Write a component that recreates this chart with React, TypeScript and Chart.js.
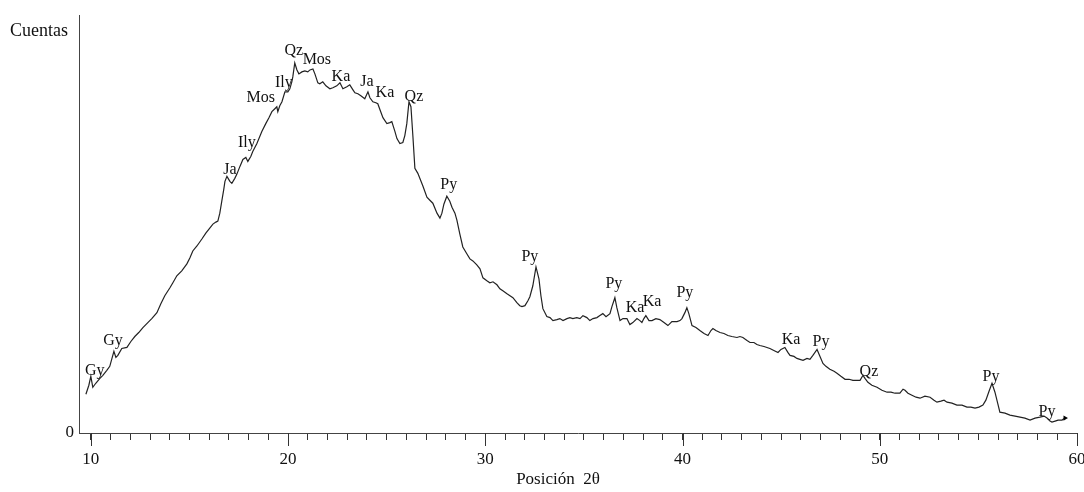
import React, { useEffect, useRef } from 'react';
import { Chart, registerables } from 'chart.js';

Chart.register(...registerables);

// Diffractogram trace: position 2θ (degrees) and intensity (counts, arbitrary units)
const twoTheta = [
  9.75, 9.90, 10.00, 10.10, 10.25, 10.46, 10.61, 10.81, 10.96, 11.17, 11.27, 11.37, 11.57, 11.83, 12.03, 12.23, 12.43, 12.64, 12.89, 13.09,
  13.35, 13.55, 13.75, 14.01, 14.16, 14.36, 14.61, 14.87, 15.02, 15.17, 15.38, 15.63, 15.83, 16.03, 16.19, 16.34, 16.44, 16.54, 16.64, 16.74,
  16.80, 16.90, 17.05, 17.15, 17.30, 17.40, 17.56, 17.71, 17.86, 17.96, 18.11, 18.21, 18.42, 18.67, 18.87, 19.03, 19.18, 19.33, 19.43, 19.48,
  19.58, 19.69, 19.84, 19.99, 20.09, 20.19, 20.24, 20.34, 20.45, 20.55, 20.70, 20.85, 21.00, 21.11, 21.26, 21.36, 21.51, 21.61, 21.76, 21.92,
  22.12, 22.27, 22.47, 22.63, 22.78, 22.98, 23.13, 23.29, 23.39, 23.54, 23.69, 23.89, 24.05, 24.15, 24.30, 24.45, 24.55, 24.66, 24.81, 25.01,
  25.16, 25.26, 25.42, 25.52, 25.67, 25.82, 25.92, 26.02, 26.13, 26.23, 26.33, 26.43, 26.58, 26.68, 26.84, 27.04, 27.19, 27.34, 27.55, 27.70,
  27.80, 27.90, 28.05, 28.20, 28.31, 28.46, 28.56, 28.71, 28.86, 29.07, 29.22, 29.37, 29.57, 29.73, 29.88, 30.08, 30.23, 30.39, 30.59, 30.74,
  30.89, 31.10, 31.25, 31.40, 31.60, 31.75, 31.86, 32.01, 32.16, 32.26, 32.41, 32.57, 32.72, 32.82, 32.92, 33.12, 33.28, 33.43, 33.63, 33.78,
  33.94, 34.14, 34.29, 34.44, 34.64, 34.80, 34.95, 35.15, 35.30, 35.46, 35.66, 35.81, 35.96, 36.12, 36.32, 36.42, 36.57, 36.67, 36.83, 36.98,
  37.18, 37.33, 37.48, 37.69, 37.84, 37.94, 38.04, 38.14, 38.30, 38.45, 38.65, 38.85, 39.06, 39.26, 39.46, 39.72, 39.87, 39.97, 40.12, 40.22,
  40.32, 40.48, 40.68, 40.88, 41.09, 41.29, 41.44, 41.54, 41.69, 41.90, 42.10, 42.30, 42.50, 42.76, 42.91, 43.06, 43.27, 43.42, 43.62, 43.77,
  43.92, 44.13, 44.28, 44.43, 44.63, 44.84, 44.99, 45.19, 45.34, 45.45, 45.65, 45.80, 45.95, 46.11, 46.31, 46.46, 46.61, 46.82, 46.97, 47.12,
  47.27, 47.47, 47.68, 47.83, 48.03, 48.24, 48.44, 48.64, 48.84, 49.00, 49.15, 49.25, 49.40, 49.60, 49.86, 50.11, 50.37, 50.57, 50.77, 51.02,
  51.18, 51.28, 51.43, 51.63, 51.84, 52.04, 52.29, 52.55, 52.75, 52.90, 53.10, 53.26, 53.41, 53.66, 53.91, 54.17, 54.42, 54.62, 54.83, 55.03,
  55.23, 55.38, 55.54, 55.69, 55.84, 55.99, 56.09, 56.35, 56.60, 56.86, 57.11, 57.36, 57.62, 57.87, 58.12, 58.33, 58.48, 58.63, 58.73, 58.89,
  59.04, 59.24, 59.39,
];

const counts = [
  390, 480, 570, 460, 500, 550, 580, 630, 670, 820, 760, 780, 850, 860, 920, 970, 1010, 1060, 1110, 1150,
  1210, 1300, 1380, 1460, 1510, 1580, 1630, 1700, 1760, 1830, 1880, 1950, 2010, 2060, 2100, 2120, 2130, 2210, 2330, 2450,
  2530, 2580, 2530, 2510, 2560, 2600, 2680, 2750, 2770, 2730, 2780, 2830, 2910, 3030, 3110, 3170, 3230, 3260, 3280, 3230,
  3290, 3330, 3430, 3430, 3460, 3530, 3580, 3720, 3650, 3610, 3630, 3640, 3630, 3650, 3660, 3610, 3520, 3510, 3530, 3490,
  3460, 3470, 3490, 3520, 3460, 3480, 3500, 3450, 3420, 3410, 3390, 3360, 3430, 3370, 3330, 3320, 3310, 3250, 3170, 3110,
  3120, 3130, 3030, 2960, 2910, 2920, 2990, 3110, 3330, 3280, 2980, 2660, 2610, 2560, 2480, 2370, 2340, 2310, 2210, 2160,
  2210, 2300, 2380, 2330, 2270, 2210, 2140, 2000, 1870, 1800, 1750, 1730, 1690, 1650, 1560, 1530, 1510, 1520, 1490, 1450,
  1430, 1400, 1380, 1360, 1310, 1280, 1270, 1280, 1330, 1370, 1480, 1670, 1550, 1380, 1250, 1170, 1160, 1130, 1140, 1150,
  1130, 1150, 1160, 1150, 1160, 1150, 1180, 1160, 1130, 1150, 1160, 1180, 1200, 1170, 1200, 1270, 1360, 1260, 1130, 1150,
  1150, 1090, 1110, 1150, 1130, 1110, 1150, 1180, 1130, 1130, 1150, 1140, 1110, 1080, 1120, 1120, 1130, 1150, 1210, 1260,
  1200, 1080, 1060, 1030, 1000, 980, 1030, 1050, 1030, 1010, 1000, 980, 970, 960, 970, 960, 930, 910, 910, 890,
  880, 870, 860, 850, 830, 810, 840, 860, 810, 780, 770, 750, 740, 730, 750, 740, 780, 840, 770, 700,
  670, 640, 620, 600, 570, 540, 540, 530, 530, 530, 580, 550, 510, 480, 460, 430, 410, 410, 400, 400,
  440, 430, 400, 380, 360, 350, 370, 360, 330, 310, 320, 330, 310, 300, 280, 280, 260, 260, 250, 260,
  280, 330, 420, 500, 410, 290, 210, 200, 180, 170, 160, 150, 130, 150, 160, 170, 150, 120, 110, 120,
  130, 130, 150,
];

// Mineral phase annotations (label centre in 2θ / counts)
const peakNames = ['Gy', 'Gy', 'Ja', 'Ily', 'Mos', 'Ily', 'Qz', 'Mos', 'Ka', 'Ja', 'Ka', 'Qz', 'Py', 'Py', 'Py', 'Ka', 'Ka', 'Py', 'Ka', 'Py', 'Qz', 'Py', 'Py'];
const peakTheta = [10.20, 11.12, 17.05, 17.91, 18.62, 19.79, 20.29, 21.46, 22.68, 24.00, 24.91, 26.38, 28.15, 32.26, 36.52, 37.59, 38.45, 40.12, 45.50, 47.02, 49.45, 55.64, 58.48];
const peakCounts = [630, 930, 2650, 2920, 3370, 3520, 3840, 3750, 3580, 3530, 3420, 3380, 2500, 1770, 1500, 1260, 1320, 1410, 940, 920, 620, 560, 210];

const xMin = 9.4;
const xMax = 60;
const yMax = 4200;
const minorTicks = [10, 11, 12, 13, 14, 15, 16, 17, 18, 19, 20, 21, 22, 23, 24, 25, 26, 27, 28, 29, 30, 31, 32, 33, 34, 35, 36, 37, 38, 39, 40, 41, 42, 43, 44, 45, 46, 47, 48, 49, 50, 51, 52, 53, 54, 55, 56, 57, 58, 59, 60];
const majorTicks = [10, 20, 30, 40, 50, 60];
const yTicks = [0];

const yLabel = 'Cuentas';
const xLabel = 'Posición  2θ';

const SERIF = '"Liberation Serif", "Times New Roman", serif';

export default function App() {
  const ref = useRef<HTMLCanvasElement | null>(null);

  useEffect(() => {
    if (!ref.current) return;

    const decor = {
      id: 'decor',
      afterDatasetsDraw(chart: any) {
        const { ctx, scales } = chart;
        const x = scales.x;
        const y = scales.y;
        ctx.save();
        // longer major ticks
        ctx.strokeStyle = '#333';
        ctx.lineWidth = 1;
        const base = chart.chartArea.bottom;
        majorTicks.forEach((v) => {
          const px = Math.round(x.getPixelForValue(v)) + 0.5;
          ctx.beginPath();
          ctx.moveTo(px, base);
          ctx.lineTo(px, base + 13);
          ctx.stroke();
        });
        // annotations
        ctx.fillStyle = '#111';
        ctx.font = `16px ${SERIF}`;
        ctx.textAlign = 'center';
        ctx.textBaseline = 'middle';
        peakNames.forEach((n, i) => {
          ctx.fillText(n, x.getPixelForValue(peakTheta[i]), y.getPixelForValue(peakCounts[i]));
        });
        // axis titles
        ctx.font = `18px ${SERIF}`;
        ctx.textAlign = 'left';
        ctx.textBaseline = 'alphabetic';
        ctx.fillText(yLabel, 10, 36);
        ctx.font = `17px ${SERIF}`;
        ctx.textAlign = 'center';
        ctx.fillText(xLabel, 558, 484);
        ctx.restore();
      },
    };

    const chart = new Chart(ref.current, {
      type: 'line',
      data: {
        datasets: [
          {
            data: twoTheta.map((t, i) => ({ x: t, y: counts[i] })),
            borderColor: '#222',
            borderWidth: 1.2,
            tension: 0,
            fill: false,
            pointRadius: (c: any) => (c.dataIndex === twoTheta.length - 1 ? 3 : 0),
            pointStyle: 'triangle',
            rotation: 90,
            pointBackgroundColor: '#000',
            pointBorderColor: '#000',
            pointBorderWidth: 0,
          },
        ],
      },
      options: {
        animation: false,
        responsive: false,
        maintainAspectRatio: false,
        layout: { padding: { top: 13, right: 7, left: 0, bottom: 0 } },
        plugins: { legend: { display: false }, tooltip: { enabled: false }, title: { display: false } },
        scales: {
          x: {
            type: 'linear',
            min: xMin,
            max: xMax,
            afterBuildTicks: (s: any) => {
              s.ticks = minorTicks.map((v) => ({ value: v }));
            },
            afterFit: (s: any) => {
              s.height = 59;
              s.paddingLeft = 0;
              s.paddingRight = 0;
            },
            ticks: {
              autoSkip: false,
              maxRotation: 0,
              minRotation: 0,
              padding: 9,
              color: '#111',
              font: { family: SERIF, size: 17 },
              callback: (v: any) => (majorTicks.includes(Number(v)) ? String(v) : ''),
            },
            grid: { drawOnChartArea: false, drawTicks: true, tickLength: 7, tickColor: '#333', color: '#333' },
            border: { display: true, color: '#444', width: 1 },
          },
          y: {
            min: 0,
            max: yMax,
            afterBuildTicks: (s: any) => {
              s.ticks = yTicks.map((v) => ({ value: v }));
            },
            afterFit: (s: any) => {
              s.width = 79;
            },
            ticks: {
              padding: 5,
              color: '#111',
              font: { family: SERIF, size: 17 },
              callback: (v: any) => String(v),
            },
            grid: { drawOnChartArea: false, drawTicks: false },
            border: { display: true, color: '#444', width: 1 },
          },
        },
      },
      plugins: [decor],
    });

    return () => chart.destroy();
  }, []);

  return (
    <div style={{ position: 'fixed', left: 0, top: 0, width: 1084, height: 492, background: '#fff' }}>
      <canvas ref={ref} width={1084} height={492} style={{ width: 1084, height: 492 }} />
    </div>
  );
}
